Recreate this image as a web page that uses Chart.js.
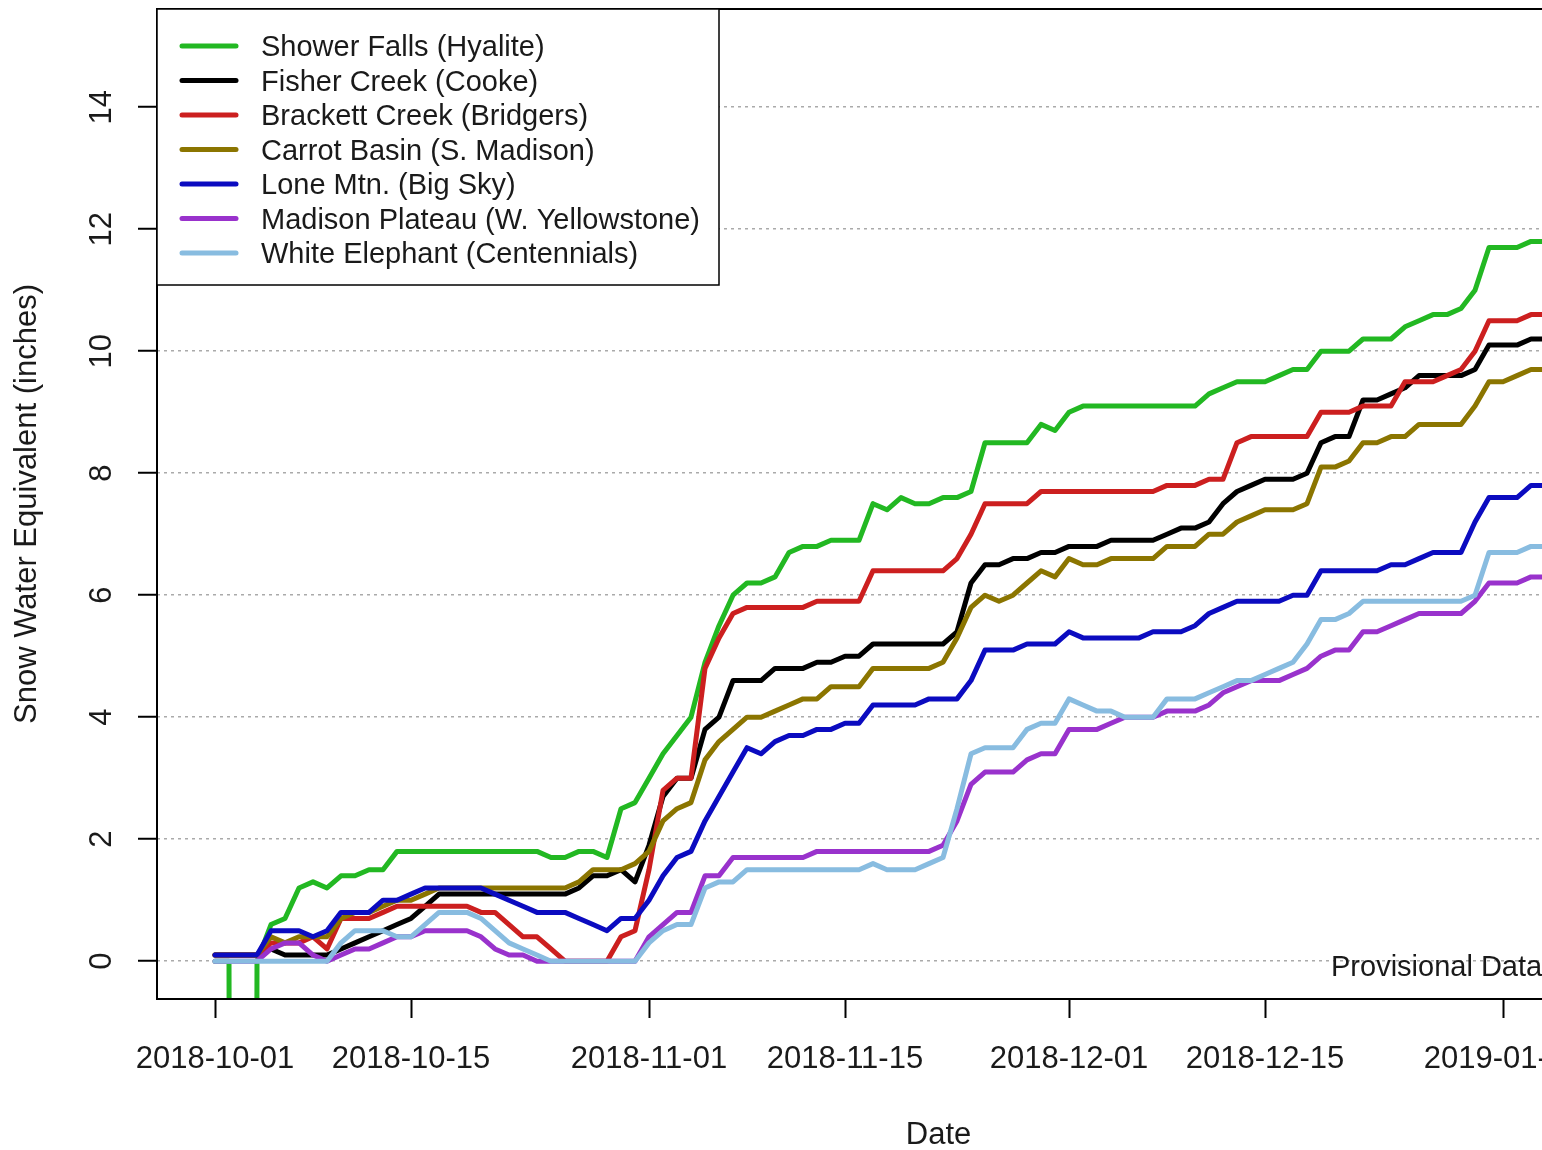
<!DOCTYPE html>
<html>
<head>
<meta charset="utf-8">
<title>Snow Water Equivalent</title>
<script src="https://cdn.jsdelivr.net/npm/chart.js@4.4.1/dist/chart.umd.min.js"></script>
<style>
  html, body { margin: 0; padding: 0; background: #fff; overflow: hidden; }
  #wrap { width: 1542px; height: 1150px; overflow: hidden; }
  canvas { display: block; }
</style>
</head>
<body>
<div id="wrap"><canvas id="swe" width="1780" height="1150"></canvas></div>
<script>
// =============================================
// Snow water equivalent, WY2019 start (daily, inches)
// day 0 = 2018-10-01
// =============================================

const siteLabels = [
  'Shower Falls (Hyalite)',
  'Fisher Creek (Cooke)',
  'Brackett Creek (Bridgers)',
  'Carrot Basin (S. Madison)',
  'Lone Mtn. (Big Sky)',
  'Madison Plateau (W. Yellowstone)',
  'White Elephant (Centennials)'
];
const siteColors = ['#22b822', '#000000', '#cc1f1f', '#8b7500', '#0b0bc0', '#9932cc', '#88bce0'];

// -99 = missing value in the station record
const showerFalls = [
  0, 0, -99, 0, 0.6, 0.7, 1.2, 1.3, 1.2, 1.4,
  1.4, 1.5, 1.5, 1.8, 1.8, 1.8, 1.8, 1.8, 1.8, 1.8,
  1.8, 1.8, 1.8, 1.8, 1.7, 1.7, 1.8, 1.8, 1.7, 2.5,
  2.6, 3.0, 3.4, 3.7, 4.0, 4.9, 5.5, 6.0, 6.2, 6.2,
  6.3, 6.7, 6.8, 6.8, 6.9, 6.9, 6.9, 7.5, 7.4, 7.6,
  7.5, 7.5, 7.6, 7.6, 7.7, 8.5, 8.5, 8.5, 8.5, 8.8,
  8.7, 9.0, 9.1, 9.1, 9.1, 9.1, 9.1, 9.1, 9.1, 9.1,
  9.1, 9.3, 9.4, 9.5, 9.5, 9.5, 9.6, 9.7, 9.7, 10.0,
  10.0, 10.0, 10.2, 10.2, 10.2, 10.4, 10.5, 10.6, 10.6, 10.7,
  11.0, 11.7, 11.7, 11.7, 11.8, 11.8
];
const fisherCreek = [
  0.1, 0.1, 0.1, 0.1, 0.2, 0.1, 0.1, 0.1, 0.1, 0.2,
  0.3, 0.4, 0.5, 0.6, 0.7, 0.9, 1.1, 1.1, 1.1, 1.1,
  1.1, 1.1, 1.1, 1.1, 1.1, 1.1, 1.2, 1.4, 1.4, 1.5,
  1.3, 1.9, 2.7, 3.0, 3.0, 3.8, 4.0, 4.6, 4.6, 4.6,
  4.8, 4.8, 4.8, 4.9, 4.9, 5.0, 5.0, 5.2, 5.2, 5.2,
  5.2, 5.2, 5.2, 5.4, 6.2, 6.5, 6.5, 6.6, 6.6, 6.7,
  6.7, 6.8, 6.8, 6.8, 6.9, 6.9, 6.9, 6.9, 7.0, 7.1,
  7.1, 7.2, 7.5, 7.7, 7.8, 7.9, 7.9, 7.9, 8.0, 8.5,
  8.6, 8.6, 9.2, 9.2, 9.3, 9.4, 9.6, 9.6, 9.6, 9.6,
  9.7, 10.1, 10.1, 10.1, 10.2, 10.2
];
const brackettCreek = [
  0.1, 0.1, 0.1, 0.1, 0.3, 0.3, 0.3, 0.4, 0.2, 0.7,
  0.7, 0.7, 0.8, 0.9, 0.9, 0.9, 0.9, 0.9, 0.9, 0.8,
  0.8, 0.6, 0.4, 0.4, 0.2, 0.0, 0.0, 0.0, 0.0, 0.4,
  0.5, 1.5, 2.8, 3.0, 3.0, 4.8, 5.3, 5.7, 5.8, 5.8,
  5.8, 5.8, 5.8, 5.9, 5.9, 5.9, 5.9, 6.4, 6.4, 6.4,
  6.4, 6.4, 6.4, 6.6, 7.0, 7.5, 7.5, 7.5, 7.5, 7.7,
  7.7, 7.7, 7.7, 7.7, 7.7, 7.7, 7.7, 7.7, 7.8, 7.8,
  7.8, 7.9, 7.9, 8.5, 8.6, 8.6, 8.6, 8.6, 8.6, 9.0,
  9.0, 9.0, 9.1, 9.1, 9.1, 9.5, 9.5, 9.5, 9.6, 9.7,
  10.0, 10.5, 10.5, 10.5, 10.6, 10.6
];
const carrotBasin = [
  0.1, 0.1, 0.1, 0.1, 0.4, 0.3, 0.4, 0.4, 0.4, 0.7,
  0.8, 0.8, 0.9, 1.0, 1.0, 1.1, 1.2, 1.2, 1.2, 1.2,
  1.2, 1.2, 1.2, 1.2, 1.2, 1.2, 1.3, 1.5, 1.5, 1.5,
  1.6, 1.8, 2.3, 2.5, 2.6, 3.3, 3.6, 3.8, 4.0, 4.0,
  4.1, 4.2, 4.3, 4.3, 4.5, 4.5, 4.5, 4.8, 4.8, 4.8,
  4.8, 4.8, 4.9, 5.3, 5.8, 6.0, 5.9, 6.0, 6.2, 6.4,
  6.3, 6.6, 6.5, 6.5, 6.6, 6.6, 6.6, 6.6, 6.8, 6.8,
  6.8, 7.0, 7.0, 7.2, 7.3, 7.4, 7.4, 7.4, 7.5, 8.1,
  8.1, 8.2, 8.5, 8.5, 8.6, 8.6, 8.8, 8.8, 8.8, 8.8,
  9.1, 9.5, 9.5, 9.6, 9.7, 9.7
];
const loneMtn = [
  0.1, 0.1, 0.1, 0.1, 0.5, 0.5, 0.5, 0.4, 0.5, 0.8,
  0.8, 0.8, 1.0, 1.0, 1.1, 1.2, 1.2, 1.2, 1.2, 1.2,
  1.1, 1.0, 0.9, 0.8, 0.8, 0.8, 0.7, 0.6, 0.5, 0.7,
  0.7, 1.0, 1.4, 1.7, 1.8, 2.3, 2.7, 3.1, 3.5, 3.4,
  3.6, 3.7, 3.7, 3.8, 3.8, 3.9, 3.9, 4.2, 4.2, 4.2,
  4.2, 4.3, 4.3, 4.3, 4.6, 5.1, 5.1, 5.1, 5.2, 5.2,
  5.2, 5.4, 5.3, 5.3, 5.3, 5.3, 5.3, 5.4, 5.4, 5.4,
  5.5, 5.7, 5.8, 5.9, 5.9, 5.9, 5.9, 6.0, 6.0, 6.4,
  6.4, 6.4, 6.4, 6.4, 6.5, 6.5, 6.6, 6.7, 6.7, 6.7,
  7.2, 7.6, 7.6, 7.6, 7.8, 7.8
];
const madisonPlateau = [
  0, 0, 0, 0, 0.2, 0.3, 0.3, 0.1, 0.0, 0.1,
  0.2, 0.2, 0.3, 0.4, 0.4, 0.5, 0.5, 0.5, 0.5, 0.4,
  0.2, 0.1, 0.1, 0.0, 0.0, 0.0, 0.0, 0.0, 0.0, 0.0,
  0.0, 0.4, 0.6, 0.8, 0.8, 1.4, 1.4, 1.7, 1.7, 1.7,
  1.7, 1.7, 1.7, 1.8, 1.8, 1.8, 1.8, 1.8, 1.8, 1.8,
  1.8, 1.8, 1.9, 2.3, 2.9, 3.1, 3.1, 3.1, 3.3, 3.4,
  3.4, 3.8, 3.8, 3.8, 3.9, 4.0, 4.0, 4.0, 4.1, 4.1,
  4.1, 4.2, 4.4, 4.5, 4.6, 4.6, 4.6, 4.7, 4.8, 5.0,
  5.1, 5.1, 5.4, 5.4, 5.5, 5.6, 5.7, 5.7, 5.7, 5.7,
  5.9, 6.2, 6.2, 6.2, 6.3, 6.3
];
const whiteElephant = [
  0, 0, 0, 0, 0, 0, 0, 0, 0, 0.3,
  0.5, 0.5, 0.5, 0.4, 0.4, 0.6, 0.8, 0.8, 0.8, 0.7,
  0.5, 0.3, 0.2, 0.1, 0.0, 0.0, 0.0, 0.0, 0.0, 0.0,
  0.0, 0.3, 0.5, 0.6, 0.6, 1.2, 1.3, 1.3, 1.5, 1.5,
  1.5, 1.5, 1.5, 1.5, 1.5, 1.5, 1.5, 1.6, 1.5, 1.5,
  1.5, 1.6, 1.7, 2.5, 3.4, 3.5, 3.5, 3.5, 3.8, 3.9,
  3.9, 4.3, 4.2, 4.1, 4.1, 4.0, 4.0, 4.0, 4.3, 4.3,
  4.3, 4.4, 4.5, 4.6, 4.6, 4.7, 4.8, 4.9, 5.2, 5.6,
  5.6, 5.7, 5.9, 5.9, 5.9, 5.9, 5.9, 5.9, 5.9, 5.9,
  6.0, 6.7, 6.7, 6.7, 6.8, 6.8
];

const seriesValues = [showerFalls, fisherCreek, brackettCreek, carrotBasin, loneMtn, madisonPlateau, whiteElephant];

// x ticks (days since 2018-10-01) and their labels
const xTickDays = [0, 14, 31, 45, 61, 75, 92];
const xTickLabels = ['2018-10-01', '2018-10-15', '2018-11-01', '2018-11-15', '2018-12-01', '2018-12-15', '2019-01-01'];
const yTicks = [0, 2, 4, 6, 8, 10, 12, 14];

const FONT = '"Liberation Sans", Arial, sans-serif';
const TEXT = '#1a1a1a';

Chart.defaults.font.family = FONT;

// box around the plot, the legend (drawn on top, white fill) and the note
const frameAndLegend = {
  id: 'frameAndLegend',
  afterDraw(chart) {
    const { ctx, chartArea: a } = chart;
    ctx.save();

    ctx.strokeStyle = '#000';
    ctx.lineWidth = 2;
    ctx.strokeRect(a.left, a.top, a.right - a.left, a.bottom - a.top);

    ctx.font = '29px ' + FONT;
    ctx.fillStyle = TEXT;
    ctx.textBaseline = 'middle';
    ctx.textAlign = 'left';
    ctx.fillText('Provisional Data', 1331, 968);

    const lx = a.left, ly = a.top, lw = 562, lh = 276;
    ctx.fillStyle = '#fff';
    ctx.fillRect(lx, ly, lw, lh);
    ctx.strokeStyle = '#000';
    ctx.lineWidth = 1.5;
    ctx.strokeRect(lx, ly, lw, lh);

    chart.data.datasets.forEach((ds, i) => {
      const y = ly + 38 + i * 34.5;
      ctx.strokeStyle = ds.borderColor;
      ctx.lineWidth = 5;
      ctx.lineCap = 'round';
      ctx.beginPath();
      ctx.moveTo(lx + 25, y - 1);
      ctx.lineTo(lx + 79, y - 1);
      ctx.stroke();
      ctx.fillStyle = TEXT;
      ctx.fillText(ds.label, lx + 104, y + 1);
    });
    ctx.restore();
  }
};

// pin the plot region: no extra room for overhanging tick labels
const noLabelPadding = (scale) => {
  scale.paddingTop = 0;
  scale.paddingBottom = 0;
  scale.paddingLeft = 0;
  scale.paddingRight = 0;
};

const datasets = seriesValues.map((vals, i) => ({
  label: siteLabels[i],
  data: vals.map((v, d) => ({ x: d, y: v })),
  borderColor: siteColors[i],
  backgroundColor: siteColors[i],
  borderWidth: 5,
  pointRadius: 0,
  tension: 0,
  fill: false,
  borderJoinStyle: 'round',
  borderCapStyle: 'round',
  order: seriesValues.length - i   // last site ends up on top, like R's lines()
}));

new Chart(document.getElementById('swe').getContext('2d'), {
  type: 'line',
  data: { datasets },
  options: {
    responsive: false,
    animation: false,
    devicePixelRatio: 1,
    events: [],
    layout: { padding: { top: 9, right: 60, bottom: 0, left: 0 } },
    plugins: {
      legend: { display: false },
      tooltip: { enabled: false }
    },
    scales: {
      x: {
        type: 'linear',
        min: -4.143,
        max: 107.5,
        afterBuildTicks: (scale) => { scale.ticks = xTickDays.map(v => ({ value: v })); },
        afterFit: (scale) => { scale.height = 151; noLabelPadding(scale); },
        grid: {
          drawOnChartArea: false,
          drawTicks: true,
          tickLength: 19,
          tickColor: '#000',
          tickWidth: 2
        },
        border: { display: false },
        ticks: {
          autoSkip: false,
          maxRotation: 0,
          padding: 23,
          color: TEXT,
          font: { size: 31 },
          callback: (v) => xTickLabels[xTickDays.indexOf(v)] ?? ''
        },
        title: {
          display: true,
          text: 'Date',
          color: TEXT,
          font: { size: 31, lineHeight: 1 },
          padding: { top: 0, bottom: -1 }
        }
      },
      y: {
        type: 'linear',
        min: -0.62,
        max: 15.61,
        afterBuildTicks: (scale) => { scale.ticks = yTicks.map(v => ({ value: v })); },
        afterFit: (scale) => { scale.width = 157; noLabelPadding(scale); },
        grid: {
          color: '#aaaaaa',
          lineWidth: 1.5,
          drawTicks: true,
          tickLength: 19,
          tickColor: '#000',
          tickWidth: 2
        },
        border: { display: false, dash: [3, 4] },
        ticks: {
          autoSkip: false,
          minRotation: 90,
          maxRotation: 90,
          crossAlign: 'center',
          padding: 18,
          color: TEXT,
          font: { size: 31 }
        },
        title: {
          display: true,
          text: 'Snow Water Equivalent (inches)',
          color: TEXT,
          font: { size: 31, lineHeight: 1 },
          padding: { top: 12, bottom: 0 }
        }
      }
    }
  },
  plugins: [frameAndLegend]
});
</script>
</body>
</html>
